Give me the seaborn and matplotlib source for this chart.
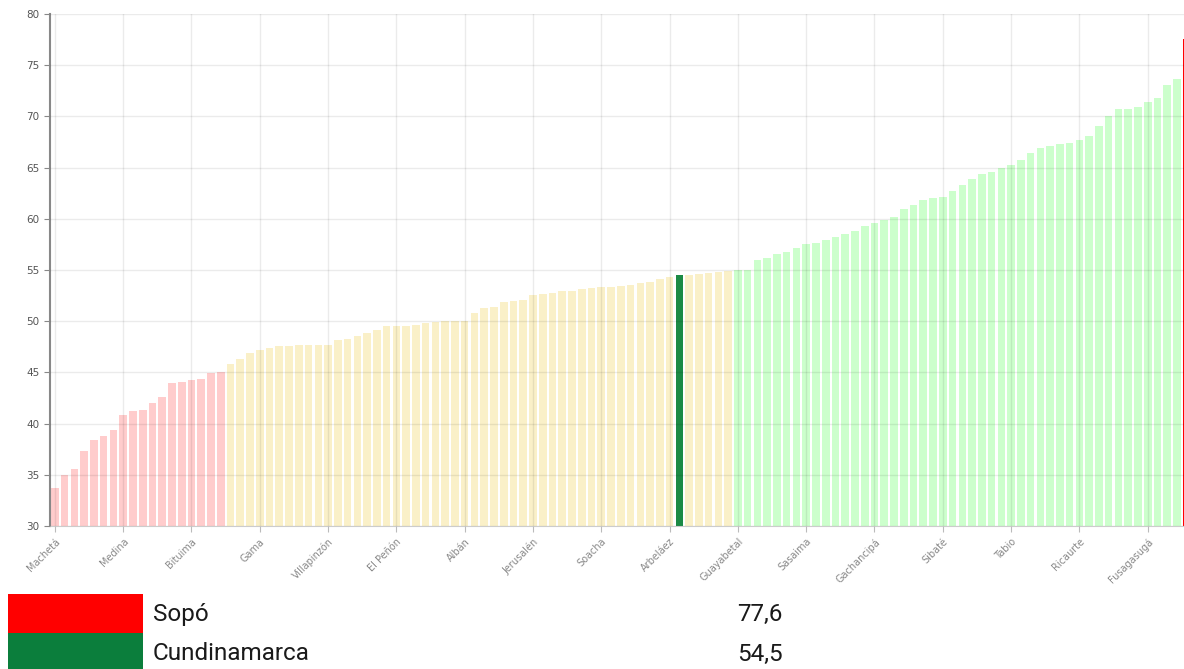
import pandas as pd
import matplotlib.pyplot as plt
import seaborn as sns
from matplotlib.patches import Rectangle

# valores por municipio, ordenados de menor a mayor
valores = [33.7, 34.95, 35.6, 37.3, 38.4, 38.8, 39.35, 40.8, 41.2, 41.3,
           42.0, 42.6, 44.0, 44.1, 44.3, 44.33, 44.97, 45.07, 45.85, 46.31,
           46.93, 47.16, 47.38, 47.58, 47.58, 47.64, 47.64, 47.64, 47.64, 48.13,
           48.26, 48.6, 48.86, 49.12, 49.5, 49.5, 49.5, 49.6, 49.87, 49.97,
           50.03, 50.03, 50.03, 50.8, 51.3, 51.4, 51.92, 52.01, 52.11, 52.6,
           52.62, 52.79, 52.92, 52.99, 53.18, 53.28, 53.38, 53.38, 53.47, 53.54,
           53.77, 53.86, 54.16, 54.35, 54.5, 54.55, 54.58, 54.68, 54.77, 54.87,
           55.0, 55.02, 56.01, 56.18, 56.54, 56.8, 57.19, 57.52, 57.61, 57.9,
           58.27, 58.56, 58.79, 59.28, 59.58, 59.92, 60.2, 60.91, 61.36, 61.84,
           62.0, 62.14, 62.75, 63.3, 63.9, 64.4, 64.58, 64.94, 65.29, 65.7,
           66.45, 66.95, 67.1, 67.26, 67.45, 67.68, 68.06, 69.03, 70.03, 70.68,
           70.7, 70.9, 71.39, 71.77, 73.03, 73.68, 77.6]

etiquetas = ['Machetá', 'Medina', 'Bituima', 'Gama', 'Villapinzón', 'El Peñón',
             'Albán', 'Jerusalén', 'Soacha', 'Arbeláez', 'Guayabetal', 'Sasaima',
             'Gachancipá', 'Sibaté', 'Tabio', 'Ricaurte', 'Fusagasugá']
pos_etiquetas = [0, 7, 14, 21, 28, 35, 42, 49, 56, 63, 70, 77, 84, 91, 98, 105, 112]

idx_cundinamarca = 64
idx_sopo = 116
valor_sopo = '77,6'
valor_cundinamarca = '54,5'

def grupo(i, v):
    if i == idx_sopo:
        return 'sopo'
    if i == idx_cundinamarca:
        return 'cund'
    if v < 45.5:
        return 'bajo'
    if v < 55:
        return 'medio'
    return 'alto'

df = pd.DataFrame({'pos': range(len(valores)), 'valor': valores})
df['grupo'] = [grupo(i, v) for i, v in zip(df['pos'], df['valor'])]

paleta = {'bajo': '#ffcccc', 'medio': '#faf0c8', 'alto': '#ccffcc',
          'cund': '#1b8a45', 'sopo': '#ff0000'}

fig = plt.figure(figsize=(11.84, 6.69), dpi=100)
ax = fig.add_axes([50 / 1184, 143 / 669, 1134 / 1184, 512 / 669])

sns.barplot(data=df, x='pos', y='valor', hue='grupo', palette=paleta,
            dodge=False, width=0.78, saturation=1, legend=False, ax=ax)

ax.set_ylim(30, 80)
ax.set_xlim(-0.5, 115.72)
ax.set_yticks(range(30, 81, 5))
ax.set_xticks(pos_etiquetas)
ax.set_xticklabels(etiquetas, rotation=45, ha='right', rotation_mode='anchor')
ax.set_xlabel('')
ax.set_ylabel('')

ax.grid(True, color='black', alpha=0.08, lw=1)
ax.set_axisbelow(False)
for s in ['top', 'right']:
    ax.spines[s].set_visible(False)
ax.spines['left'].set_color('#888888')
ax.spines['left'].set_linewidth(1.5)
ax.spines['bottom'].set_color('#cccccc')
ax.tick_params(axis='y', length=4, color='#888888', labelsize=7.5, labelcolor='#555555')
ax.tick_params(axis='x', length=4, color='#bbbbbb', labelsize=7, labelcolor='#888888')

# leyenda inferior
fig.add_artist(Rectangle((8 / 1184, 36 / 669), 135 / 1184, 39 / 669,
                         transform=fig.transFigure, color='#ff0000', lw=0))
fig.add_artist(Rectangle((8 / 1184, 0), 135 / 1184, 36 / 669,
                         transform=fig.transFigure, color='#0b7e3c', lw=0))
fig.text(153 / 1184, 55 / 669, 'Sopó', family='Roboto', fontsize=17.5, va='center', color='#1a1a1a')
fig.text(153 / 1184, 15 / 669, 'Cundinamarca', family='Roboto', fontsize=17.5, va='center', color='#1a1a1a')
fig.text(737 / 1184, 55 / 669, valor_sopo, family='Roboto', fontsize=17.5, va='center', color='#1a1a1a')
fig.text(737 / 1184, 15 / 669, valor_cundinamarca, family='Roboto', fontsize=17.5, va='center', color='#1a1a1a')

fig.savefig('out.png', dpi=100)
